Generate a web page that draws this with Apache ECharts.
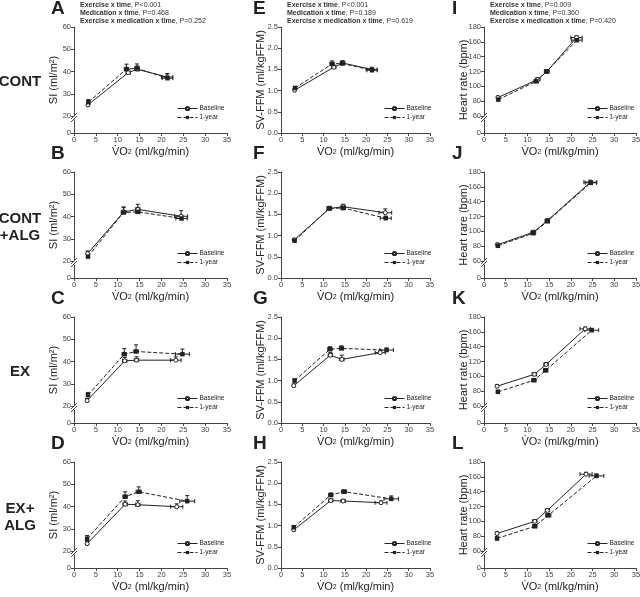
<!DOCTYPE html>
<html>
<head>
<meta charset="utf-8">
<script src="https://cdn.jsdelivr.net/npm/echarts@6/dist/echarts.min.js"></script>
<style>
  html, body { margin: 0; padding: 0; background: #fff; }
  #chart { width: 640px; height: 597px; }
</style>
</head>
<body>
<div id="chart"></div>
<script>
// rows: CONT, CONT+ALG, EX, EX+ALG
const vo2Base = [[3.2, 12.4, 14.5, 21.3], [3.1, 11.4, 14.6, 24.5], [3.0, 11.6, 14.3, 23.3], [3.0, 11.7, 14.6, 23.5]]
const vo2Year = [[3.3, 12.0, 14.4, 21.4], [3.2, 11.3, 14.6, 24.6], [3.2, 11.5, 14.2, 24.8], [3.0, 11.7, 14.8, 25.9]]
const vo2BaseErr = [[0.2, 0.5, 0.5, 1.3], [0.2, 0.5, 0.5, 1.5], [0.2, 0.5, 0.5, 1.2], [0.2, 0.5, 0.5, 1.4]]
const vo2YearErr = [[0.2, 0.5, 0.5, 1.2], [0.2, 0.5, 0.5, 1.3], [0.2, 0.5, 0.5, 1.6], [0.2, 0.5, 0.6, 1.7]]

// stroke index SI (ml/m2), panels A-D
const siBase = [[25.0, 39.5, 41.0, 37.5], [23.3, 42.1, 43.2, 40.1], [22.4, 40.3, 40.6, 40.6], [23.3, 41.0, 40.8, 39.9]]
const siYear = [[26.2, 41.1, 41.4, 37.0], [22.0, 41.8, 42.1, 39.1], [24.9, 43.3, 44.5, 43.3], [25.5, 44.4, 46.6, 42.4]]
const siBaseErr = [[1.2, 1.5, 1.5, 1.5], [1.2, 2.0, 2.3, 2.5], [1.0, 1.5, 1.5, 1.5], [1.0, 1.5, 1.8, 1.3]]
const siYearErr = [[1.2, 2.2, 2.0, 2.0], [1.2, 2.5, 2.0, 1.5], [1.2, 2.5, 3.0, 2.3], [1.5, 2.2, 2.2, 2.5]]

// SV-FFM (ml/kgFFM), panels E-H
const svBase = [[1.01, 1.55, 1.65, 1.50], [0.90, 1.64, 1.68, 1.54], [0.88, 1.60, 1.50, 1.66], [0.90, 1.59, 1.58, 1.54]]
const svYear = [[1.06, 1.63, 1.64, 1.48], [0.88, 1.64, 1.65, 1.41], [1.00, 1.74, 1.76, 1.72], [0.96, 1.72, 1.80, 1.63]]
const svBaseErr = [[0.04, 0.05, 0.05, 0.05], [0.03, 0.05, 0.06, 0.09], [0.04, 0.06, 0.10, 0.05], [0.03, 0.04, 0.04, 0.04]]
const svYearErr = [[0.04, 0.07, 0.06, 0.06], [0.04, 0.04, 0.05, 0.05], [0.04, 0.06, 0.06, 0.05], [0.04, 0.05, 0.04, 0.07]]

// heart rate (bpm), panels I-L
const hrBase = [[84.9, 109.3, 120.0, 165.8], [81.9, 98.8, 114.5, 166.3], [86.7, 102.7, 116.0, 164.0], [83.6, 100.0, 114.7, 163.6]]
const hrYear = [[82.2, 106.7, 120.0, 162.2], [80.5, 97.5, 113.6, 165.4], [79.1, 94.7, 108.0, 162.2], [76.9, 93.3, 108.0, 161.3]]
const hrBaseErr = [[2.0, 2.5, 2.5, 2.5], [2.0, 2.5, 2.5, 2.5], [2.0, 2.5, 2.5, 2.5], [2.0, 2.5, 2.5, 2.5]]
const hrYearErr = [[2.0, 2.5, 2.5, 2.5], [2.0, 2.5, 2.5, 2.5], [2.0, 2.5, 2.5, 2.5], [2.0, 2.5, 2.5, 2.5]]

const rowNames = [['CONT'], ['CONT', '+ALG'], ['EX'], ['EX+', 'ALG']]
const letters = [['A', 'E', 'I'], ['B', 'F', 'J'], ['C', 'G', 'K'], ['D', 'H', 'L']]
const siTitles = ['SI (ml/m²)', 'SI (ml/m²)', 'SI (ml/m²)', 'SI (ml/m²)']
const svTitles = ['SV-FFM (ml/kgFFM)', 'SV-FFM (ml/kgFFM)', 'SV-FFM (ml/kgFFM)', 'SV-FFM (ml/kgFFM)']
const hrTitles = ['Heart rate (bpm)', 'Heart rare (bpm)', 'Heart rate (bpm)', 'Heart rate (bpm)']
const statTerms = ['Exercise x time', 'Medication x time', 'Exercise x medication x time']
const statP = [['P<0.001', 'P=0.468', 'P=0.252'], ['P<0.001', 'P=0.189', 'P=0.619'], ['P=0.009', 'P=0.360', 'P=0.420']]
const legendNames = ['Baseline', '1-year']

// layout
const FONT = 'Liberation Sans, Arial, sans-serif'
const INK = '#222'
const colLeft = [74, 281, 484]
const colWidth = [153, 149, 152]
const letterX = [51, 253, 452]
const rowTop = [27, 172, 317, 462]
const panelH = 106
const upperH = 89
const lowerTop = 93

const columns = [
    {base: siBase, year: siYear, baseErr: siBaseErr, yearErr: siYearErr, titles: siTitles, min: 20, max: 60, step: 10, broken: true, dec: 0},
    {base: svBase, year: svYear, baseErr: svBaseErr, yearErr: svYearErr, titles: svTitles, min: 0, max: 2.5, step: 0.5, broken: false, dec: 1},
    {base: hrBase, year: hrYear, baseErr: hrBaseErr, yearErr: hrYearErr, titles: hrTitles, min: 60, max: 180, step: 20, broken: true, dec: 0}
]

let grids = []
let xAxes = []
let yAxes = []
let series = []
let legends = []
let graphics = []

let axisLine = {show: true, lineStyle: {color: '#444', width: 1}}
let axisTick = {show: true, length: 3, lineStyle: {color: '#444', width: 1}}
let labelStyle = {fontSize: 7.5, color: '#444', margin: 3, fontFamily: FONT}

function visibleX(gi) {
    return {
        gridIndex: gi, type: 'value', min: 0, max: 35, interval: 5,
        axisLine, axisTick, splitLine: {show: false},
        axisLabel: labelStyle,
        name: '{v|V\u0307O}{s|2}{v| (ml/kg/min)}',
        nameLocation: 'middle',
        nameGap: 11,
        nameTextStyle: {
            color: INK,
            rich: {
                v: {fontSize: 11, fontFamily: FONT, color: INK, height: 16, verticalAlign: 'top'},
                s: {fontSize: 7, fontFamily: FONT, color: INK, height: 16, verticalAlign: 'bottom'}
            }
        }
    }
}

function renderErr(params, api) {
    let x = api.value(0)
    let y = api.value(1)
    let ye = api.value(2)
    let xe = api.value(3)
    let p = api.coord([x, y])
    let pu = api.coord([x, y + ye])
    let pl = api.coord([x - xe, y])
    let pr = api.coord([x + xe, y])
    let cap = 2
    let st = {stroke: INK, lineWidth: 1}
    return {
        type: 'group',
        children: [
            {type: 'line', shape: {x1: p[0], y1: p[1], x2: pu[0], y2: pu[1]}, style: st},
            {type: 'line', shape: {x1: pu[0] - cap, y1: pu[1], x2: pu[0] + cap, y2: pu[1]}, style: st},
            {type: 'line', shape: {x1: pl[0], y1: pl[1], x2: pr[0], y2: pr[1]}, style: st},
            {type: 'line', shape: {x1: pl[0], y1: pl[1] - cap, x2: pl[0], y2: pl[1] + cap}, style: st},
            {type: 'line', shape: {x1: pr[0], y1: pr[1] - cap, x2: pr[0], y2: pr[1] + cap}, style: st}
        ]
    }
}

for (let r = 0; r < 4; r++) {
    for (let c = 0; c < 3; c++) {
        let col = columns[c]
        let left = colLeft[c]
        let width = colWidth[c]
        let top = rowTop[r]
        let yLabel = Object.assign({}, labelStyle, {
            formatter: (v) => v.toFixed(col.dec)
        })
        let gi = grids.length
        let dataX
        let dataY

        if (col.broken) {
            grids.push({left, top, width, height: upperH, containLabel: false, outerBoundsMode: 'none'})
            dataX = xAxes.length
            xAxes.push({gridIndex: gi, type: 'value', min: 0, max: 35, show: false})
            dataY = yAxes.length
            yAxes.push({
                gridIndex: gi, type: 'value', min: col.min, max: col.max, interval: col.step,
                axisLine, axisTick, axisLabel: yLabel, splitLine: {show: false}
            })
            grids.push({left, top: top + lowerTop, width, height: panelH - lowerTop, containLabel: false, outerBoundsMode: 'none'})
            xAxes.push(visibleX(gi + 1))
            yAxes.push({
                gridIndex: gi + 1, type: 'value', min: 0, max: 10,
                axisLine,
                axisTick: Object.assign({}, axisTick, {customValues: [0]}),
                axisLabel: Object.assign({}, labelStyle, {customValues: [0]}),
                splitLine: {show: false}
            })
            // break marks
            let slash = {stroke: '#444', lineWidth: 1}
            graphics.push({type: 'line', shape: {x1: left - 3, y1: top + upperH + 3, x2: left + 3, y2: top + upperH - 3}, style: slash, z: 10})
            graphics.push({type: 'line', shape: {x1: left - 3, y1: top + upperH + 6, x2: left + 3, y2: top + upperH}, style: slash, z: 10})
        } else {
            grids.push({left, top, width, height: panelH, containLabel: false, outerBoundsMode: 'none'})
            dataX = xAxes.length
            xAxes.push(visibleX(gi))
            dataY = yAxes.length
            yAxes.push({
                gridIndex: gi, type: 'value', min: col.min, max: col.max, interval: col.step,
                axisLine, axisTick, axisLabel: yLabel, splitLine: {show: false}
            })
        }

        let baseData = vo2Base[r].map((x, i) => [x, col.base[r][i]])
        let yearData = vo2Year[r].map((x, i) => [x, col.year[r][i]])
        let errData = vo2Base[r].map((x, i) => [x, col.base[r][i], col.baseErr[r][i], vo2BaseErr[r][i]])
            .concat(vo2Year[r].map((x, i) => [x, col.year[r][i], col.yearErr[r][i], vo2YearErr[r][i]]))

        series.push({
            type: 'custom', xAxisIndex: dataX, yAxisIndex: dataY, renderItem: renderErr,
            data: errData, clip: false, silent: true, z: 1
        })
        series.push({
            name: 'Baseline', type: 'line', xAxisIndex: dataX, yAxisIndex: dataY,
            data: baseData, symbol: 'circle', symbolSize: 4, showAllSymbol: true,
            lineStyle: {color: INK, width: 1},
            itemStyle: {color: '#fff', borderColor: INK, borderWidth: 1},
            z: 3
        })
        series.push({
            name: '1-year', type: 'line', xAxisIndex: dataX, yAxisIndex: dataY,
            data: yearData, symbol: 'rect', symbolSize: 4.5, showAllSymbol: true,
            lineStyle: {color: INK, width: 1, type: [4, 2]},
            itemStyle: {color: INK},
            z: 4
        })

        legends.push({
            data: legendNames, orient: 'vertical', left: left + 103, top: top + 78,
            itemWidth: 20, itemHeight: 4, itemGap: 2, padding: 0, selectedMode: false,
            lineStyle: {width: 1},
            textStyle: {fontSize: 6.5, color: INK, fontFamily: FONT, padding: [0, 0, 0, -3]}
        })

        // axis title (centred on the full panel height)
        graphics.push({
            type: 'text', x: left - 20, y: top + panelH / 2, rotation: Math.PI / 2,
            style: {text: col.titles[r], fontSize: 11, fontFamily: FONT, fill: INK, align: 'center', verticalAlign: 'middle'}
        })

        // panel letter
        graphics.push({
            type: 'text', x: letterX[c], y: top - 18,
            style: {text: letters[r][c], fontSize: 19, fontWeight: 'bold', fontFamily: FONT, fill: INK, align: 'left', verticalAlign: 'middle'}
        })
    }

    let lines = rowNames[r]
    let mid = rowTop[r] + 55
    lines.forEach((t, i) => {
        graphics.push({
            type: 'text', x: 20, y: mid + (i - (lines.length - 1) / 2) * 17,
            style: {text: t, fontSize: 15, fontWeight: 'bold', fontFamily: FONT, fill: INK, align: 'center', verticalAlign: 'middle'}
        })
    })
}

// interaction statistics above the top row
for (let c = 0; c < 3; c++) {
    statTerms.forEach((term, i) => {
        graphics.push({
            type: 'text', x: colLeft[c] + 6, y: 5 + i * 8,
            style: {
                text: '{b|' + term + '}, ' + statP[c][i],
                fontSize: 7, fontFamily: FONT, fill: '#333', verticalAlign: 'middle',
                rich: {b: {fontSize: 7, fontWeight: 'bold', fontFamily: FONT, fill: '#333'}}
            }
        })
    })
}

let myChart = echarts.init(document.getElementById('chart'), null, {renderer: 'canvas'})
myChart.setOption({
    animation: false,
    backgroundColor: '#fff',
    grid: grids,
    xAxis: xAxes,
    yAxis: yAxes,
    legend: legends,
    series,
    graphic: graphics
})
</script>
</body>
</html>
